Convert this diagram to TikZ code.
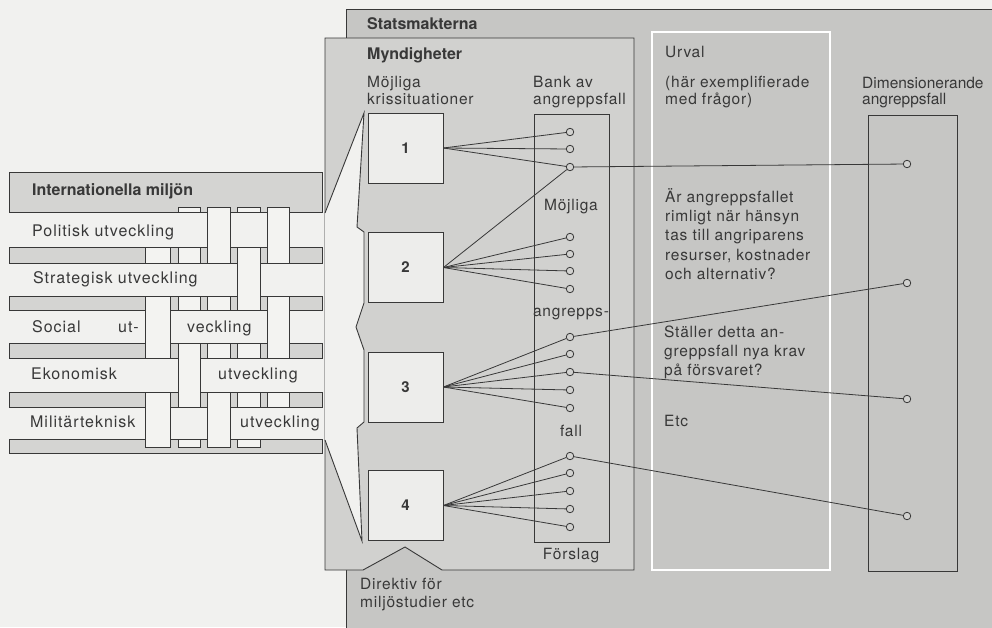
\documentclass[tikz,border=0pt]{standalone}
\usepackage{fontspec}
\setmainfont{TeX Gyre Heros}
\definecolor{bg}{HTML}{F1F1EF}
\definecolor{stat}{HTML}{C6C6C4}
\definecolor{mynd}{HTML}{D1D1CF}
\definecolor{strip}{HTML}{D4D4D2}
\definecolor{boxw}{HTML}{EDEDEB}
\definecolor{barw}{HTML}{F3F3F1}
\definecolor{ink}{HTML}{383838}
\tikzset{
  inkline/.style={draw=ink, line width=0.9pt},
  numbox/.style={draw=ink, line width=0.9pt, fill=boxw, minimum width=75pt, minimum height=70pt, inner sep=0pt, font=\fontsize{15}{17}\selectfont\bfseries, text=ink},
  dot/.style={circle, draw=ink, fill=mynd, line width=0.8pt, minimum size=7.5pt, inner sep=0pt},
  conn/.style={draw=ink, line width=0.8pt},
  lab/.style={inner sep=0pt, text=ink, anchor=base west, align=left, font=\fontsize{15.5}{17.5}\selectfont\addfontfeature{LetterSpace=5}},
  labq/.style={lab, font=\fontsize{15.5}{19.4}\selectfont\addfontfeature{LetterSpace=5}},
  labd/.style={lab, font=\fontsize{15.5}{16.5}\selectfont},
  labw/.style={lab, font=\fontsize{16}{19}\selectfont\addfontfeature{LetterSpace=6}},
  labb/.style={lab, font=\fontsize{16}{19}\selectfont\bfseries},
  labc/.style={lab, anchor=base, align=center},
}
\begin{document}
\begin{tikzpicture}[x=1pt, y=-1pt]
\useasboundingbox (0,0) rectangle (992,627);
\clip (0,0) rectangle (992,627);
\fill[bg] (0,0) rectangle (992,627);
% Statsmakterna
\fill[stat] (346,9) rectangle (1000,640);
\draw[inkline] (346,640) -- (346,9) -- (1000,9);
% Myndigheter
\draw[inkline, fill=mynd] (325,38) -- (634,38) -- (634,570) -- (442,570) -- (405,547) -- (363,570) -- (325,570) -- cycle;
% funnel (white area)
\fill[bg] (325,213) -- (364,113) -- (357,227) -- (364,232) -- (364,303) -- (356,327) -- (364,350) -- (364,422) -- (357,428) -- (362,541) -- (325,440) -- cycle;
\draw[inkline] (325,213) -- (364,113) -- (357,227) -- (364,232) -- (364,303) -- (356,327) -- (364,350) -- (364,422) -- (357,428) -- (362,541) -- (325,440);
% Urval column
\draw[white, line width=2.5pt] (652,32) rectangle (830,570);
% Dimensionerande column
\draw[conn] (868,115) rectangle (957,571);
% Bank column
\draw[conn] (534,114) rectangle (609,542);
% boxes
\node[numbox] (k1) at (405.5,148) {1};
\node[numbox] (k2) at (405.5,267.5) {2};
\node[numbox] (k3) at (405.5,387) {3};
\node[numbox] (k4) at (405.5,505.5) {4};
% dots in bank
\foreach \n/\y in {11/132,12/149,13/167,21/237,22/254,23/271,24/289,31/337,32/354,33/372,34/390,35/408,41/456,42/473,43/491,44/509,45/527}
  \node[dot] (b\n) at (570,\y) {};
\node[dot] (d1) at (907,164) {};
\node[dot] (d2) at (907,283) {};
\node[dot] (d3) at (907,399) {};
\node[dot] (d4) at (907,516) {};
% connectors
\foreach \n in {11,12,13} \draw[conn] (k1.east) -- (b\n);
\foreach \n in {13,21,22,23,24} \draw[conn] (k2.east) -- (b\n);
\foreach \n in {31,32,33,34,35} \draw[conn] (k3.east) -- (b\n);
\foreach \n in {41,42,43,44,45} \draw[conn] (k4.east) -- (b\n);
\draw[conn] (b13) -- (d1);
\draw[conn] (b31) -- (d2);
\draw[conn] (b33) -- (d3);
\draw[conn] (b41) -- (d4);
% ---- woven environment ----
\foreach \a/\b in {247/263, 296/310, 343/358, 392/407, 439/453}
  \draw[inkline, fill=strip] (9,\a) rectangle (322,\b);
\node[inkline, fill=strip, minimum width=313pt, minimum height=40pt, inner sep=0pt, anchor=north west] (intl) at (9,172) {};
% vertical bars
\foreach \xa/\xb/\ya/\yb in {145/170/247/447, 178/200/207/447, 207/230/207/447, 237/260/207/447, 267/289/207/420}
  \draw[inkline, fill=barw] (\xa,\ya) rectangle (\xb,\yb);
% rows passing over bars
\foreach \xa/\xb/\ya/\yb in {
  178/200/212/247, 237/260/212/247,
  145/170/263/296, 178/200/263/296, 207/230/263/296, 267/289/263/296,
  178/200/310/343, 207/230/310/343, 237/260/310/343,
  145/170/358/392, 207/230/358/392, 237/260/358/392, 267/289/358/392,
  178/200/407/439, 237/260/407/439, 267/289/407/439}
{
  \fill[bg] (\xa-0.6,\ya) rectangle (\xb+0.6,\yb);
  \draw[inkline] (\xa-0.6,\ya) -- (\xb+0.6,\ya) (\xa-0.6,\yb) -- (\xb+0.6,\yb);
}
% ---- texts (base = baseline of the last line) ----
\node[labb] (tstat) at (367,29) {Statsmakterna};
\node[labb] (tmynd) at (367,59) {Myndigheter};
\node[lab] (tkris) at (367,104.5) {Möjliga\\krissituationer};
\node[lab] (tbank) at (533,104.5) {Bank av\\angreppsfall};
\node[labc] (tmoj) at (571,210) {Möjliga};
\node[labc] (tang) at (571,316.5) {angrepps-};
\node[labc] (tfall) at (571,436) {fall};
\node[labc] (tfors) at (571,559) {Förslag};
\node[lab] (tdir) at (360,607) {Direktiv för\\miljöstudier etc};
\node[lab] (turv) at (665,57) {Urval};
\node[lab] (thar) at (665,104.5) {(här exemplifierade\\med frågor)};
\node[labq] (tq1) at (665,279.6) {Är angreppsfallet\\rimligt när hänsyn\\tas till angriparens\\resurser, kostnader\\och alternativ?};
\node[labq] (tq2) at (664,375.8) {Ställer detta an-\\greppsfall nya krav\\på försvaret?};
\node[lab] (tetc) at (664,426) {Etc};
\node[labd] (tdim) at (862,104.5) {Dimensionerande\\angreppsfall};
\node[labb] (tint) at (32,195) {Internationella miljön};
\node[labw] (tpol) at (32,236) {Politisk utveckling};
\node[labw] (tstr) at (33,283) {Strategisk utveckling};
\node[labw] (tsoc) at (32,332) {Social};
\node[labw] (tsoc2) at (118,332) {ut-};
\node[labw] (tsoc3) at (187,332) {veckling};
\node[labw] (teko) at (31,379) {Ekonomisk};
\node[labw] (teko2) at (218,379) {utveckling};
\node[labw] (tmil) at (30,427) {Militärteknisk};
\node[labw] (tmil2) at (240,427) {utveckling};
\end{tikzpicture}
\end{document}
